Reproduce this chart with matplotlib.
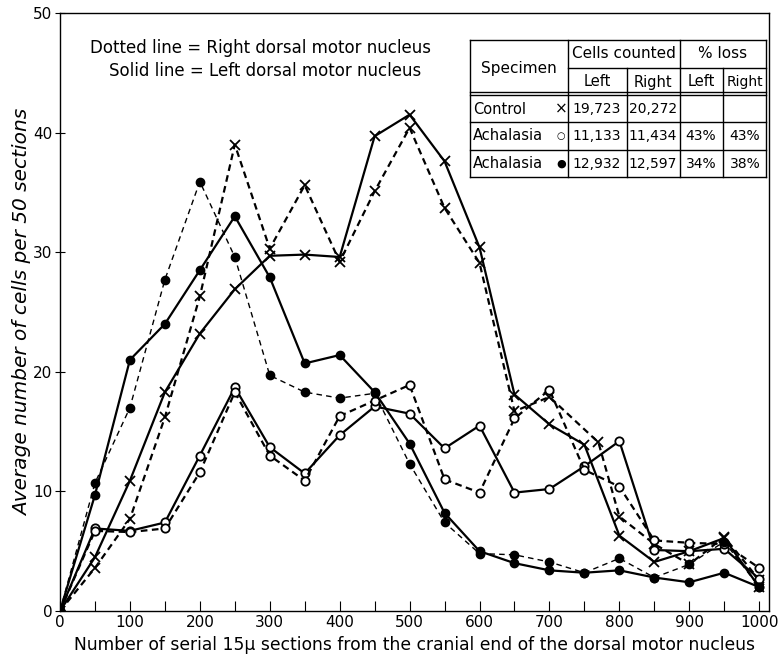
import matplotlib
matplotlib.use("Agg")
import matplotlib.pyplot as plt
from matplotlib.lines import Line2D

W, H = 778, 661

# sections counted from the cranial end
sections = [0, 50, 100, 150, 200, 250, 300, 350, 400, 450, 500,
            550, 600, 650, 700, 750, 800, 850, 900, 950, 1000]
sections_ctrl_right = [0, 50, 100, 150, 200, 250, 300, 350, 400, 450, 500,
                       550, 600, 650, 700, 770, 800, 850, 900, 950, 1000]

ctrl_left = [0, 4.5, 10.9, 18.3, 23.2, 26.9, 29.7, 29.8, 29.6, 39.7, 41.5,
             37.6, 30.4, 18.1, 15.6, 13.9, 6.3, 4.1, 5.0, 6.1, 2.0]
ctrl_right = [0, 3.6, 7.7, 16.2, 26.3, 39.0, 30.3, 35.6, 29.2, 35.1, 40.4,
              33.7, 29.1, 16.7, 17.9, 14.1, 7.9, 5.6, 3.9, 6.2, 2.6]
open_left = [0, 6.9, 6.7, 7.4, 13.0, 18.7, 13.7, 11.5, 14.7, 17.1, 16.5,
             13.6, 15.5, 9.9, 10.2, 12.1, 14.2, 5.1, 5.0, 5.2, 2.7]
open_right = [0, 6.7, 6.6, 6.9, 11.6, 18.3, 13.0, 10.9, 16.3, 17.6, 18.9,
              11.0, 9.9, 16.1, 18.5, 11.8, 10.4, 5.9, 5.7, 5.6, 3.6]
filled_left = [0, 9.7, 21.0, 24.0, 28.5, 33.0, 27.9, 20.7, 21.4, 18.3, 14.0,
               8.2, 5.0, 4.0, 3.4, 3.2, 3.4, 2.8, 2.4, 3.2, 2.0]
filled_right = [0, 10.7, 17.0, 27.7, 35.9, 29.6, 19.7, 18.3, 17.8, 18.2, 12.3,
                7.4, 4.8, 4.7, 4.1, 3.2, 4.4, 2.8, 3.9, 5.8, 2.0]

xticks = [0, 100, 200, 300, 400, 500, 600, 700, 800, 900, 1000]
yticks = [0, 10, 20, 30, 40, 50]

# table content
tbl_specimen = ["Control", "Achalasia", "Achalasia"]
tbl_symbol = ["\u00d7", "\u25cb", "\u25cf"]
tbl_left = ["19,723", "11,133", "12,932"]
tbl_right = ["20,272", "11,434", "12,597"]
tbl_loss_left = ["", "43%", "34%"]
tbl_loss_right = ["", "43%", "38%"]

plt.rcParams['font.family'] = ['DejaVu Sans']

fig = plt.figure(figsize=(W / 100, H / 100), dpi=100)
ax = fig.add_axes([60 / W, 1 - 611 / H, (769 - 60) / W, (611 - 13) / H])

k = 'black'
ax.plot(sections, ctrl_left, '-', color=k, lw=1.6, marker='x', ms=7.5, mew=1.3)
ax.plot(sections_ctrl_right, ctrl_right, '--', color=k, lw=1.6, dashes=(3, 2),
        marker='x', ms=7.5, mew=1.3)
ax.plot(sections, open_left, '-', color=k, lw=1.6, marker='o', ms=6,
        mfc='white', mew=1.3)
ax.plot(sections, open_right, '--', color=k, lw=1.6, dashes=(3, 2), marker='o',
        ms=6, mfc='white', mew=1.3)
ax.plot(sections, filled_left, '-', color=k, lw=1.6, marker='o', ms=6)
ax.plot(sections, filled_right, '--', color=k, lw=1.0, dashes=(4, 3),
        marker='o', ms=6)

ax.set_xlim(0, 1014)
ax.set_ylim(0, 50)
ax.set_xticks(xticks)
ax.set_xticks(range(50, 1000, 100), minor=True)
ax.set_yticks(yticks)
ax.tick_params(axis='x', which='both', direction='in', length=7, width=0.8,
               labelsize=11, pad=3)
ax.tick_params(axis='y', direction='inout', length=7, width=0.8,
               labelsize=11, pad=2)
for s in ax.spines.values():
    s.set_linewidth(1.0)

ax.set_xlabel("Number of serial 15\u03bc sections from the cranial end of the dorsal motor nucleus",
              fontsize=12.3, labelpad=4)
ax.set_ylabel("Average number of cells per 50 sections", fontsize=14.5,
              style='italic', labelpad=1)


def fx(x):
    return x / W


def fy(y):
    return 1 - y / H


def hline(y, x0, x1, lw=1.0):
    fig.add_artist(Line2D([fx(x0), fx(x1)], [fy(y), fy(y)], color=k, lw=lw,
                          transform=fig.transFigure))


def vline(x, y0, y1, lw=1.0):
    fig.add_artist(Line2D([fx(x), fx(x)], [fy(y0), fy(y1)], color=k, lw=lw,
                          transform=fig.transFigure))


def txt(x, y, s, size=10, ha='center'):
    fig.text(fx(x), fy(y), s, fontsize=size, ha=ha, va='center')


# note on line styles
txt(260, 48, "Dotted line = Right dorsal motor nucleus", size=12)
txt(265, 71, "Solid line = Left dorsal motor nucleus", size=12)

# table grid
left, right, top, bottom = 470, 766, 40, 177
hline(top, left, right)
hline(bottom, left, right)
vline(left, top, bottom)
vline(right, top, bottom)
vline(568, top, bottom)
vline(680, top, bottom)
vline(627, 68, bottom)
vline(723, 68, bottom)
hline(68, 568, right)
hline(92, left, right)
hline(95, left, right)
hline(122, left, right)
hline(150, left, right)

txt(519, 68, "Specimen", size=11)
txt(624, 54, "Cells counted", size=11)
txt(723, 54, "% loss", size=11)
txt(597, 82, "Left", size=10.5)
txt(653, 82, "Right", size=10.5)
txt(701, 82, "Left", size=10.5)
txt(744.5, 82, "Right", size=10)

row_y = [109, 136, 164]
sym_size = [11, 7, 8]
for i, y in enumerate(row_y):
    txt(473, y, tbl_specimen[i], size=10.5, ha='left')
    txt(561, y, tbl_symbol[i], size=sym_size[i])
    txt(597, y, tbl_left[i])
    txt(653, y, tbl_right[i])
    txt(701, y, tbl_loss_left[i])
    txt(745, y, tbl_loss_right[i])

fig.savefig("out.png", dpi=100)
